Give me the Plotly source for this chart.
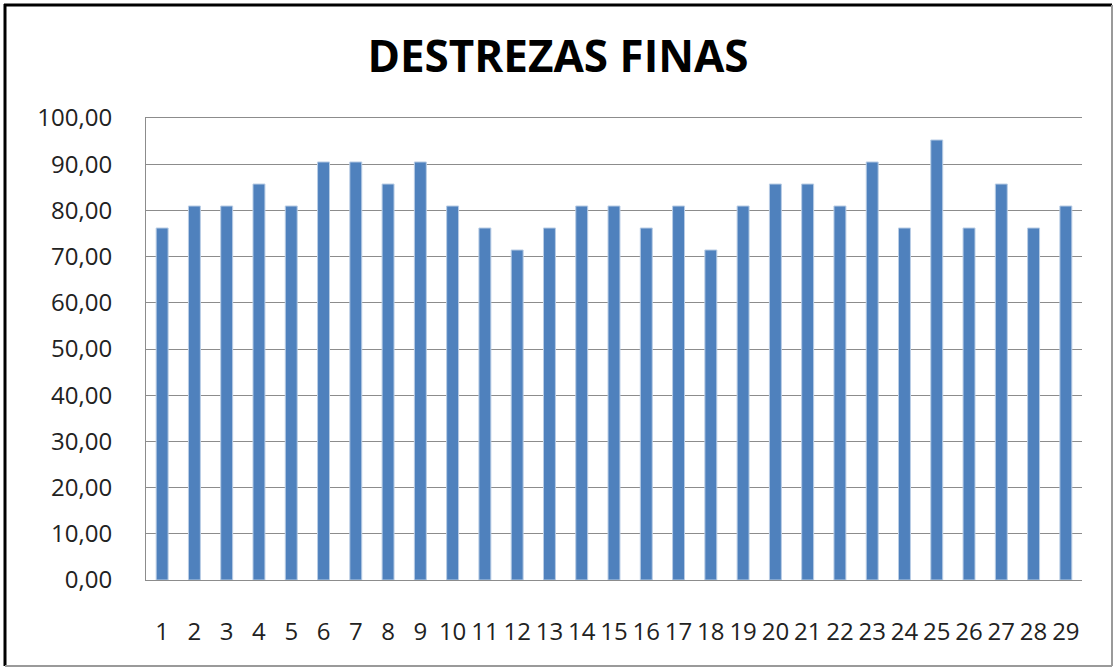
import plotly.graph_objects as go

categories = [str(i) for i in range(1, 30)]
values = [76.19, 80.95, 80.95, 85.71, 80.95, 90.48, 90.48, 85.71, 90.48, 80.95,
          76.19, 71.43, 76.19, 80.95, 80.95, 76.19, 80.95, 71.43, 80.95, 85.71,
          85.71, 80.95, 90.48, 76.19, 95.24, 76.19, 85.71, 76.19, 80.95]
title_text = "DESTREZAS FINAS"
y_ticks = [0, 10, 20, 30, 40, 50, 60, 70, 80, 90, 100]

W, H = 1116, 668
L, R, T, B = 146, 34, 118, 88
pw, ph = W - L - R, H - T - B

def px(x):
    return (x - L) / pw

def py(y):
    return (H - B - y) / ph

fig = go.Figure()
fig.add_trace(go.Bar(
    x=categories, y=values,
    marker=dict(color="#4F81BD", line=dict(color="#B9CDE5", width=1)),
))

font_family = "Open Sans"
fig.update_layout(
    width=W, height=H,
    margin=dict(l=L, r=R, t=T, b=B),
    paper_bgcolor="white", plot_bgcolor="white",
    separators=",.",
    bargap=0.63,
    showlegend=False,
    title=dict(text="<b>" + title_text + "</b>", x=0.5, xanchor="center",
               y=1 - 57 / H, yanchor="middle",
               font=dict(family=font_family, size=44, color="black")),
    font=dict(family=font_family, color="#222222"),
)
fig.update_yaxes(range=[0, 100], tickvals=y_ticks, tickformat=".2f",
                 showgrid=True, gridcolor="#8c8c8c", gridwidth=1,
                 showline=True, linecolor="#8c8c8c", linewidth=1,
                 zeroline=False, ticks="", ticklabelstandoff=28,
                 tickfont=dict(size=24, family=font_family, color="#222222"))
fig.update_xaxes(showgrid=False, showline=True, mirror=True,
                 linecolor="#8c8c8c", linewidth=1,
                 ticks="", ticklabelstandoff=30,
                 tickfont=dict(size=24, family=font_family, color="#222222"))

# outer frame
fig.add_shape(type="line", xref="paper", yref="paper",
              x0=px(5), x1=px(5), y0=py(4), y1=py(666),
              line=dict(color="black", width=3))
fig.add_shape(type="line", xref="paper", yref="paper",
              x0=px(4), x1=px(1112), y0=py(5), y1=py(5),
              line=dict(color="black", width=3))
fig.add_shape(type="line", xref="paper", yref="paper",
              x0=px(1112), x1=px(1112), y0=py(5), y1=py(666),
              line=dict(color="#9a9a9a", width=2))
fig.add_shape(type="line", xref="paper", yref="paper",
              x0=px(5), x1=px(1112), y0=py(666), y1=py(666),
              line=dict(color="#9a9a9a", width=2))

fig.write_html("out.html", config={"displayModeBar": False},
               post_script="document.body.style.margin='0px';document.body.style.overflow='hidden';")
